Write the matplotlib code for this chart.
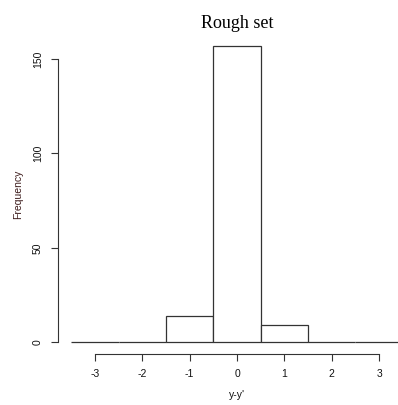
import matplotlib
matplotlib.use("Agg")
import matplotlib.pyplot as plt
import numpy as np

# histogram of y-y' (bin edges and counts)
bin_edges = [-3.5, -2.5, -1.5, -0.5, 0.5, 1.5, 2.5, 3.5]
counts = [0, 0, 14, 157, 9, 0, 0]
x_ticks = [-3, -2, -1, 0, 1, 2, 3]
y_ticks = [0, 50, 100, 150]

fig = plt.figure(figsize=(3.98, 4.05), dpi=100)
# plot region runs past the right edge like the (cropped) reference
ax = fig.add_axes([58 / 398, 51 / 405, 358 / 398, 320 / 405])

edges = np.array(bin_edges)
ax.bar(edges[:-1], counts, width=np.diff(edges), align="edge",
       facecolor="white", edgecolor="#333333", linewidth=0.9)

ax.set_xlim(-3.78, 3.78)
ax.set_ylim(-6.28, 163.28)

for s in ["top", "right"]:
    ax.spines[s].set_visible(False)
ax.spines["left"].set_bounds(0, 150)
ax.spines["bottom"].set_bounds(-3, 3)
for s in ["left", "bottom"]:
    ax.spines[s].set_linewidth(0.8)
    ax.spines[s].set_color("#333333")

ax.set_xticks(x_ticks)
ax.set_xticklabels([str(v) for v in x_ticks])
ax.set_yticks(y_ticks)
ax.set_yticklabels([str(v) for v in y_ticks], rotation=90, va="center")
ax.tick_params(length=5, width=0.8, color="#333333", labelsize=7.5,
               pad=6, labelcolor="#111111")
for lab in ax.get_xticklabels() + ax.get_yticklabels():
    lab.set_family("Liberation Sans")

ax.set_xlabel("y-y'", family="Liberation Sans", fontsize=7.5, labelpad=8,
              color="#111111")
ax.set_ylabel("Frequency", family="Liberation Sans", fontsize=7.5,
              labelpad=7, color="#3d1c1c")
ax.set_title("Rough set", family="Liberation Serif", fontsize=13, pad=4)

fig.savefig("out.png", dpi=100)
